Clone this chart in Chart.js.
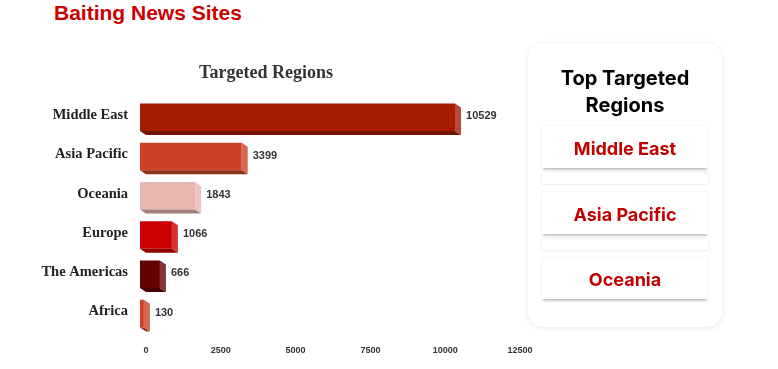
<!DOCTYPE html>
<html>
<head>
<meta charset="utf-8">
<script src="https://cdn.jsdelivr.net/npm/chart.js@4.4.1/dist/chart.umd.min.js"></script>
<style>
  body { margin: 0; width: 778px; height: 369px; background: #fff; position: relative; overflow: hidden; font-family: "Liberation Sans", Arial, sans-serif; }
  #pageTitle { position: absolute; left: 54px; top: 1px; font-size: 21px; font-weight: bold; color: #cc0000; }
  #chartBox { position: absolute; left: 0; top: 50px; width: 540px; height: 319px; }
  #card { position: absolute; left: 528px; top: 43px; width: 194px; height: 284px; background: #fff; border-radius: 16px; box-shadow: 0 1px 6px rgba(0,0,0,0.10); font-family: Inter, "Noto Sans", sans-serif; }
  #card h3 { margin: 0; position: absolute; top: 22px; left: 0; width: 100%; text-align: center; font-size: 20px; line-height: 27px; font-weight: 700; color: #000; }
  .topBox { position: absolute; left: 14px; width: 166px; height: 42px; background: #fff; box-shadow: 0 3px 2px -1px rgba(0,0,0,0.22), 0 0 2px rgba(0,0,0,0.08); color: #c00000; font-weight: 700; font-size: 18px; line-height: 46px; text-align: center; }
  .gap { position: absolute; left: 14px; width: 166px; height: 11px; background: #fff; box-shadow: 0 0 2px rgba(0,0,0,0.18); }
</style>
</head>
<body>
<div id="pageTitle">Baiting News Sites</div>
<div id="chartBox"><canvas id="regionsChart"></canvas></div>
<div id="card">
  <h3>Top Targeted<br>Regions</h3>
  <div class="topBox" style="top:83px">Middle East</div>
  <div class="gap" style="top:130px"></div>
  <div class="topBox" style="top:149px">Asia Pacific</div>
  <div class="gap" style="top:196px"></div>
  <div class="topBox" style="top:214px">Oceania</div>
</div>
<script>
// données du graphique
const regions = ["Middle East", "Asia Pacific", "Oceania", "Europe", "The Americas", "Africa"];
const attacks = [10529, 3399, 1843, 1066, 666, 130];
const barColors = ["#a61c00", "#cc4125", "#e6b8af", "#cc0000", "#660000", "#cc4125"];
const xTicks = [0, 2500, 5000, 7500, 10000, 12500];
const topRegions = ["Middle East", "Asia Pacific", "Oceania"];

function shade(hex, f) {
    const n = parseInt(hex.slice(1), 16);
    let r = (n >> 16) & 255, g = (n >> 8) & 255, b = n & 255;
    if (f < 0) { r *= 1 + f; g *= 1 + f; b *= 1 + f; }
    else { r += (255 - r) * f; g += (255 - g) * f; b += (255 - b) * f; }
    return "rgb(" + Math.round(r) + "," + Math.round(g) + "," + Math.round(b) + ")";
}

// faces 3D + étiquettes de valeur
const depthPlugin = {
    id: "depth",
    afterDatasetsDraw(chart) {
        const ctx = chart.ctx;
        const dx = 6, dy = 4;
        chart.getDatasetMeta(0).data.forEach((bar, i) => {
            const p = bar.getProps(["x", "y", "base", "height"], true);
            const left = p.base, right = p.x;
            const top = p.y - p.height / 2, bottom = p.y + p.height / 2;
            ctx.save();
            ctx.fillStyle = shade(barColors[i], -0.3);
            ctx.beginPath();
            ctx.moveTo(left, bottom); ctx.lineTo(right, bottom);
            ctx.lineTo(right + dx, bottom + dy); ctx.lineTo(left + dx, bottom + dy);
            ctx.closePath(); ctx.fill();
            ctx.fillStyle = shade(barColors[i], 0.2);
            ctx.beginPath();
            ctx.moveTo(right, top); ctx.lineTo(right + dx, top + dy);
            ctx.lineTo(right + dx, bottom + dy); ctx.lineTo(right, bottom);
            ctx.closePath(); ctx.fill();
            ctx.fillStyle = "#333";
            ctx.font = "bold 11px 'Liberation Sans', Arial, sans-serif";
            ctx.textBaseline = "middle";
            ctx.fillText(String(attacks[i]), right + 11, p.y - 1);
            ctx.restore();
        });
    }
};

const ctx = document.getElementById("regionsChart").getContext("2d");
new Chart(ctx, {
    type: "bar",
    data: {
        labels: regions,
        datasets: [{
            label: "Targeted Regions",
            data: attacks,
            backgroundColor: barColors,
            barPercentage: 0.8,
            categoryPercentage: 0.88
        }]
    },
    options: {
        indexAxis: "y",
        responsive: true,
        maintainAspectRatio: false,
        animation: false,
        layout: { padding: { top: 0, right: 26, bottom: 9, left: 18 } },
        plugins: {
            legend: { display: false },
            tooltip: { enabled: false },
            title: {
                display: true,
                text: "Targeted Regions",
                color: "#333",
                font: { family: "'Liberation Serif', 'DejaVu Serif', serif", size: 18, weight: "bold" },
                padding: { top: 13, bottom: 13 }
            }
        },
        scales: {
            x: {
                min: 0,
                max: 12500,
                afterBuildTicks: (scale) => { scale.ticks = xTicks.map(v => ({ value: v })); },
                grid: { display: false },
                border: { display: false },
                ticks: {
                    color: "#333",
                    padding: 4,
                    labelOffset: 6,
                    maxRotation: 0,
                    callback: (v) => String(v),
                    font: { family: "'Liberation Sans', Arial, sans-serif", size: 9, weight: "bold" }
                }
            },
            y: {
                afterFit: (scale) => { scale.width = 122; },
                grid: { display: false },
                border: { display: false },
                ticks: {
                    color: "#222",
                    padding: 4,
                    labelOffset: -2,
                    font: { family: "'Liberation Serif', 'DejaVu Serif', serif", size: 14.5, weight: "bold" }
                }
            }
        }
    },
    plugins: [depthPlugin]
});
</script>
</body>
</html>
